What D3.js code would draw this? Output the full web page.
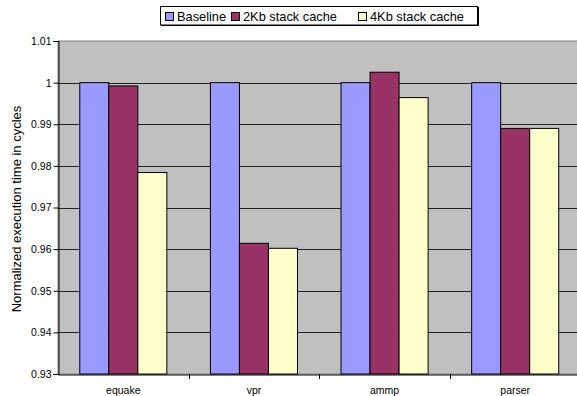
<!DOCTYPE html>
<html>
<head>
<meta charset="utf-8">
<script src="https://cdn.jsdelivr.net/npm/d3@7/dist/d3.min.js"></script>
<style>
  html, body { margin: 0; padding: 0; background: #fff; }
  svg { display: block; font-family: "Liberation Sans", Arial, sans-serif; }
</style>
</head>
<body>
<svg id="chart" width="577" height="396"></svg>
<script>
// Benchmarks and normalized execution times
const categories = ["equake", "vpr", "ammp", "parser"];
const seriesNames = ["Baseline", "2Kb stack cache", "4Kb stack cache"];
const baseline = [1.0, 1.0, 1.0, 1.0];
const cache2Kb = [0.9992, 0.9614, 1.0025, 0.9890];
const cache4Kb = [0.9784, 0.9602, 0.9964, 0.9890];
const yTicks = [0.93, 0.94, 0.95, 0.96, 0.97, 0.98, 0.99, 1, 1.01];
const yLabel = "Normalized execution time in cycles";

const seriesValues = [baseline, cache2Kb, cache4Kb];
const colors = ["#9999FF", "#993366", "#FFFFCC"];

const svg = d3.select("#chart");
const plot = { left: 58, right: 580.5, top: 41, bottom: 374 };

const x = d3.scaleBand().domain(categories).range([plot.left, plot.right]).paddingInner(0).paddingOuter(0);
const inner = d3.scaleBand().domain(d3.range(seriesNames.length))
  .range([0, x.bandwidth()]).paddingInner(0).paddingOuter(0.75);
const y = d3.scaleLinear().domain([0.93, 1.01]).range([plot.bottom, plot.top]);

// Plot background
svg.append("rect")
  .attr("x", plot.left).attr("y", plot.top)
  .attr("width", plot.right - plot.left).attr("height", plot.bottom - plot.top)
  .attr("fill", "#C0C0C0").attr("stroke", "#808080").attr("stroke-width", 1);

// Horizontal gridlines
svg.append("g").selectAll("line")
  .data(yTicks.filter(t => t > 0.93 && t < 1.01))
  .join("line")
  .attr("x1", plot.left).attr("x2", plot.right)
  .attr("y1", d => Math.round(y(d)) + 0.5).attr("y2", d => Math.round(y(d)) + 0.5)
  .attr("stroke", "#222").attr("stroke-width", 1);

// Bars
const groups = svg.append("g").selectAll("g")
  .data(categories)
  .join("g")
  .attr("transform", d => `translate(${x(d)},0)`);

groups.selectAll("rect")
  .data((d, i) => seriesValues.map((vals, s) => ({ s, v: vals[i] })))
  .join("rect")
  .attr("x", d => inner(d.s))
  .attr("y", d => y(d.v))
  .attr("width", inner.bandwidth())
  .attr("height", d => y(0.93) - y(d.v))
  .attr("fill", d => colors[d.s])
  .attr("stroke", "#000")
  .attr("stroke-width", 1);

// Y axis
const yAxis = d3.axisLeft(y).tickValues(yTicks).tickSize(5).tickPadding(2)
  .tickFormat(d => d3.format("")(+d.toFixed(2)));
const gy = svg.append("g").attr("transform", `translate(${plot.left + 0.5},0)`).call(yAxis);
gy.selectAll("text").attr("font-size", 10.5).attr("fill", "#000").style("font-family", "Liberation Sans, Arial, sans-serif");
gy.selectAll("line").attr("stroke", "#000");
gy.select(".domain").attr("stroke", "#000");

// X axis
const xAxis = d3.axisBottom(x).tickSize(0).tickPadding(12);
const gx = svg.append("g").attr("transform", `translate(0,${plot.bottom + 0.5})`).call(xAxis);
gx.select(".domain").attr("stroke", "#000");
gx.selectAll("text").attr("font-size", 10.5).attr("fill", "#000").style("font-family", "Liberation Sans, Arial, sans-serif");
// Category separators below the axis
svg.append("g").selectAll("line")
  .data(categories.slice(1))
  .join("line")
  .attr("x1", d => Math.round(x(d)) + 0.5).attr("x2", d => Math.round(x(d)) + 0.5)
  .attr("y1", plot.bottom).attr("y2", plot.bottom + 5)
  .attr("stroke", "#000");

// Y axis title
svg.append("text")
  .attr("transform", `translate(18,209) rotate(-90)`)
  .attr("text-anchor", "middle")
  .attr("dominant-baseline", "middle")
  .attr("font-size", 13)
  .text(yLabel);

// Legend
const legend = svg.append("g");
legend.append("rect")
  .attr("x", 161).attr("y", 7).attr("width", 318).attr("height", 19)
  .attr("fill", "#000");
legend.append("rect")
  .attr("x", 160.5).attr("y", 6.5).attr("width", 317).attr("height", 18.5)
  .attr("fill", "#fff").attr("stroke", "#000");
const legendX = [177, 243, 370];
seriesNames.forEach((name, i) => {
  const item = legend.append("g").attr("transform", `translate(${legendX[i]},0)`);
  item.append("rect").attr("x", -11.5).attr("y", 12.5).attr("width", 8).attr("height", 8)
    .attr("fill", colors[i]).attr("stroke", "#000");
  item.append("text").attr("x", 0).attr("y", 21).attr("font-size", 12.8).text(name);
});
</script>
</body>
</html>
